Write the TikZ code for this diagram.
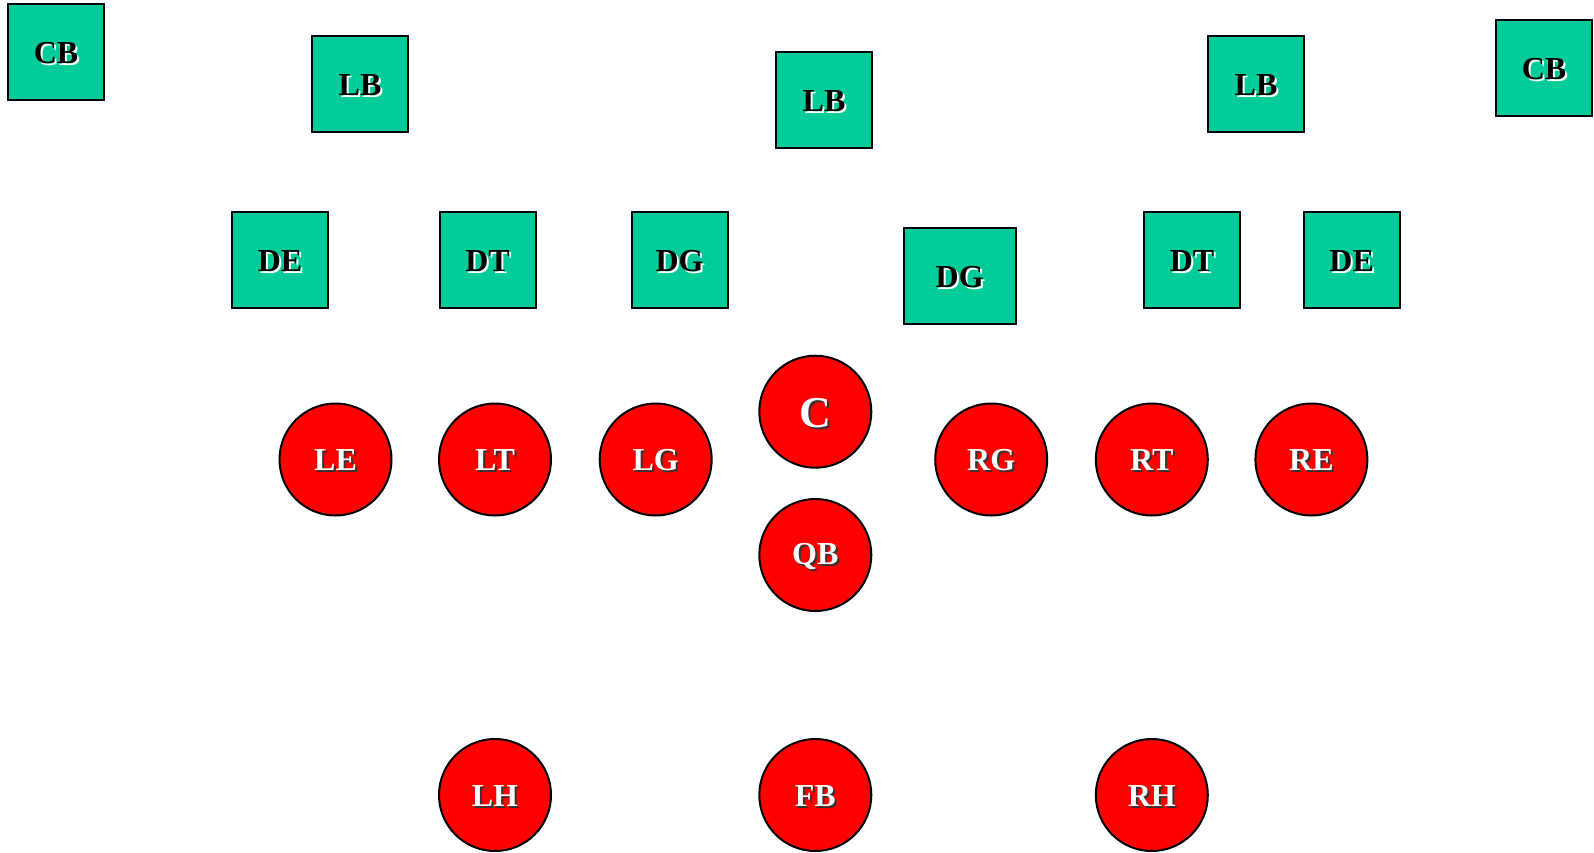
\documentclass[tikz,border=0pt]{standalone}
\usepackage{fontspec}
\setmainfont{Liberation Serif}
\definecolor{turf}{HTML}{00CC99}
\definecolor{jersey}{HTML}{FF0000}
\tikzset{
  defbox/.style={draw=black, line width=2pt, fill=turf, minimum width=96pt, minimum height=96pt, inner sep=0pt},
  offcirc/.style={draw=black, line width=2pt, fill=jersey, circle, minimum size=112pt, inner sep=0pt},
  deftxt/.style={font=\fontsize{32}{32}\selectfont\bfseries, text=black, inner sep=0pt},
  defshadow/.style={font=\fontsize{32}{32}\selectfont\bfseries, text=white, inner sep=0pt},
  offtxt/.style={text=white, inner sep=0pt},
  offshadow/.style={text=black!80, inner sep=0pt},
}
\newcommand{\deflabel}[2]{%
  \node[defshadow] at ([shift={(2,3)}]#1) {#2};
  \node[deftxt] at ([shift={(0,1)}]#1) {#2};}
\newcommand{\offlabel}[3][32]{%
  \node[offshadow, font=\fontsize{#1}{#1}\selectfont\bfseries] at ([shift={(2,3)}]#2) {#3};
  \node[offtxt, font=\fontsize{#1}{#1}\selectfont\bfseries] at ([shift={(0,1)}]#2) {#3};}
\begin{document}
\begin{tikzpicture}[x=1pt, y=-1pt]
\useasboundingbox (0,0) rectangle (1594,853);
% defense
\node[defbox] (cb1) at (56,52) {};
\node[defbox] (lb1) at (360,84) {};
\node[defbox] (lb2) at (824,100) {};
\node[defbox] (lb3) at (1256,84) {};
\node[defbox] (cb2) at (1544,68) {};
\node[defbox] (de1) at (280,260) {};
\node[defbox] (dt1) at (487.5,260) {};
\node[defbox] (dg1) at (679.6,260) {};
\node[defbox, minimum width=112pt] (dg2) at (959.7,276) {};
\node[defbox] (dt2) at (1192,260) {};
\node[defbox] (de2) at (1351.7,260) {};
\deflabel{cb1}{CB}
\deflabel{lb1}{LB}
\deflabel{lb2}{LB}
\deflabel{lb3}{LB}
\deflabel{cb2}{CB}
\deflabel{de1}{DE}
\deflabel{dt1}{DT}
\deflabel{dg1}{DG}
\deflabel{dg2}{DG}
\deflabel{dt2}{DT}
\deflabel{de2}{DE}
% offense
\node[offcirc] (le) at (335.5,459.5) {};
\node[offcirc] (lt) at (495,459.5) {};
\node[offcirc] (lg) at (655.7,459.5) {};
\node[offcirc] (c) at (815.3,411.7) {};
\node[offcirc] (rg) at (991.2,459.5) {};
\node[offcirc] (rt) at (1151.8,459.5) {};
\node[offcirc] (re) at (1311.4,459.5) {};
\node[offcirc] (qb) at (815.3,555) {};
\node[offcirc] (lh) at (495,795) {};
\node[offcirc] (fb) at (815.3,795) {};
\node[offcirc] (rh) at (1151.8,795) {};
\offlabel{le}{LE}
\offlabel{lt}{LT}
\offlabel{lg}{LG}
\offlabel[44]{c}{C}
\offlabel{rg}{RG}
\offlabel{rt}{RT}
\offlabel{re}{RE}
\offlabel{qb}{QB}
\offlabel{lh}{LH}
\offlabel{fb}{FB}
\offlabel{rh}{RH}
\end{tikzpicture}
\end{document}
